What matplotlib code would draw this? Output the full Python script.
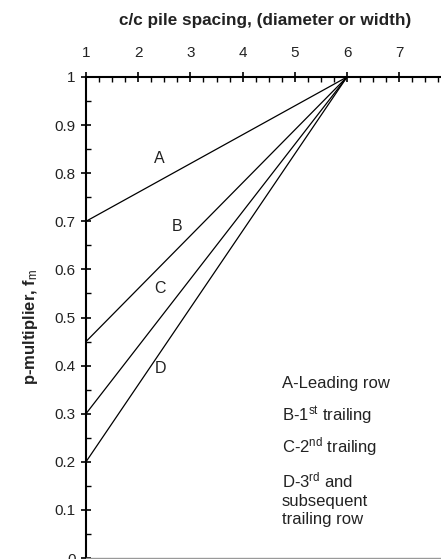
import matplotlib
matplotlib.use("Agg")
import matplotlib.pyplot as plt
from matplotlib.ticker import MultipleLocator

plt.rcParams['font.family'] = ['Liberation Sans', 'DejaVu Sans']
plt.rcParams['mathtext.fontset'] = 'custom'
plt.rcParams['mathtext.rm'] = 'Liberation Sans'
plt.rcParams['mathtext.it'] = 'Liberation Sans:italic'

# Data
series_names = ["A", "B", "C", "D"]
spacing = [1, 6]
fm_A = [0.70, 1.0]
fm_B = [0.45, 1.0]
fm_C = [0.30, 1.0]
fm_D = [0.20, 1.0]
label_pos_x = [2.41, 2.74, 2.41, 2.43]
label_pos_y = [0.83, 0.69, 0.56, 0.395]
legend_lines = ["A-Leading row", r"B-1$^{\rm st}$ trailing", r"C-2$^{\rm nd}$ trailing",
                "D-3$^{\\rm rd}$ and\nsubsequent\ntrailing row"]
legend_y = [0.362, 0.296, 0.231, 0.181]
x_ticks = [1, 2, 3, 4, 5, 6, 7]
y_ticks = [0, 0.1, 0.2, 0.3, 0.4, 0.5, 0.6, 0.7, 0.8, 0.9, 1]
y_ticklabels = ["0", "0.1", "0.2", "0.3", "0.4", "0.5", "0.6", "0.7", "0.8", "0.9", "1"]

fig = plt.figure(figsize=(4.41, 5.59), dpi=100)
ax = fig.add_axes([86/441, 1/559, 7*52.2/441, 481/559])

for ys in [fm_A, fm_B, fm_C, fm_D]:
    ax.plot(spacing, ys, color="black", lw=0.9)

for name, lx, ly in zip(series_names, label_pos_x, label_pos_y):
    ax.text(lx, ly, name, fontsize=11.5, ha="center", va="center", color="#222222")

ax.set_xlim(1, 8)
ax.set_ylim(0, 1)
ax.xaxis.set_ticks_position("top")
ax.set_xticks(x_ticks)
ax.set_xticklabels([str(t) for t in x_ticks])
ax.set_yticks(y_ticks)
ax.set_yticklabels(y_ticklabels)
ax.xaxis.set_minor_locator(MultipleLocator(0.25))
ax.yaxis.set_minor_locator(MultipleLocator(0.05))
ax.tick_params(which="major", direction="inout", length=7, width=1.2, labelsize=11,
               colors="black", labelcolor="#222222", pad=4)
ax.tick_params(axis="x", which="major", pad=9)
ax.tick_params(which="minor", direction="in", length=3.5, width=1.0, colors="black")

fig.text(265/441, 1 - 20/559, "c/c pile spacing, (diameter or width)", fontsize=12.3,
         fontweight="bold", color="#222222", ha="center", va="center")
ax.set_ylabel("p-multiplier, f$_{\\rm m}$", fontsize=12, fontweight="bold", color="#222222")
ax.yaxis.set_label_coords(-0.153, 0.48)
ax.yaxis.label.set_va("center")

for s in ["left", "top"]:
    ax.spines[s].set_linewidth(1.5)
    ax.spines[s].set_color("black")
ax.spines["right"].set_visible(False)
ax.spines["bottom"].set_color("#999999")
ax.spines["bottom"].set_linewidth(1.0)

for txt, ly in zip(legend_lines, legend_y):
    multi = "\n" in txt
    ax.text((282 - 86) / (7 * 52.2), ly, txt, transform=ax.transAxes,
            fontsize=12, va="top" if multi else "center", ha="left",
            color="#222222", linespacing=1.25 if multi else 1.0)

fig.savefig("out.png", dpi=100)
